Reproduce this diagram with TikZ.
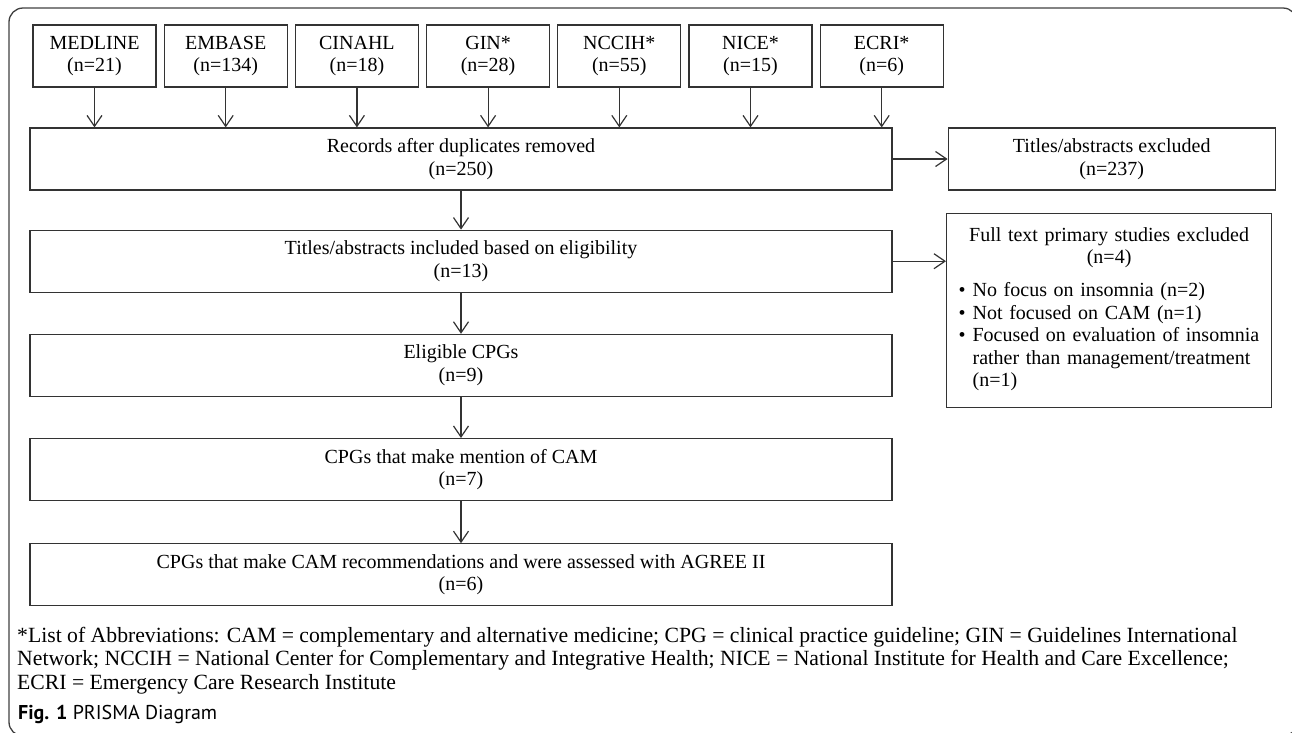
\documentclass[tikz,border=0pt]{standalone}
\usepackage{fontspec}
\setmainfont{Liberation Serif}
\newfontfamily\captionfont{PT Sans}
\usetikzlibrary{arrows.meta, positioning}
\newcommand{\boxfont}{\fontsize{20}{22.5}\selectfont}
\tikzstyle{block} = [rectangle, draw=black!80, line width=1.2pt, fill=white,
    align=center, minimum height=62pt, inner sep=0pt, font=\boxfont]
\tikzstyle{source} = [block, minimum width=123pt]
\tikzstyle{wide} = [block, minimum width=862pt]
\tikzstyle{line} = [draw=black!80, line width=1.2pt, -{Straight Barb[length=11pt,width=15pt]}]

\begin{document}
\begin{tikzpicture}[x=1pt, y=-1pt, node distance=7pt]
      \useasboundingbox (0,0) rectangle (1292,732);
      \clip (0,0) rectangle (1292,732);
      % Frame
      \draw [black!75, line width=1.3pt, rounded corners=14pt] (9,8) rectangle (1297,736);
      % Sources
      \node [source] (medline) at (94.5,56) {MEDLINE\\(n=21)};
      \node [source, right= of medline] (embase) {EMBASE\\(n=134)};
      \node [source, right= of embase] (cinahl) {CINAHL\\(n=18)};
      \node [source, right= of cinahl] (gin) {GIN*\\(n=28)};
      \node [source, right= of gin] (nccih) {NCCIH*\\(n=55)};
      \node [source, right= of nccih] (nice) {NICE*\\(n=15)};
      \node [source, right= of nice] (ecri) {ECRI*\\(n=6)};
      % Screening
      \node [wide] (records) at (461,159) {Records after duplicates removed\\(n=250)};
      \node [block, minimum width=327pt, right=55pt of records] (titles-excl) {Titles/abstracts excluded\\(n=237)};
      \node [wide, below=39pt of records] (included) {Titles/abstracts included based on eligibility\\(n=13)};
      \node [block, anchor=north west, minimum width=325pt, minimum height=194pt,
          text width=301pt, align=left, inner xsep=12pt] (fulltext-excl) at (946,213) {%
          {\centering Full text primary studies excluded\\(n=4)\par}\vspace{12pt}%
          \begin{tabular}{@{}l@{\hspace{7pt}}l@{}}
          \textbullet & No focus on insomnia (n=2)\\
          \textbullet & Not focused on CAM (n=1)\\
          \textbullet & Focused on evaluation of insomnia\\
           & rather than management/treatment\\
           & (n=1)
          \end{tabular}};
      \node [wide, below=41pt of included] (eligible) {Eligible CPGs\\(n=9)};
      \node [wide, below=41pt of eligible] (mention) {CPGs that make mention of CAM\\(n=7)};
      \node [wide, below=42pt of mention] (assessed) {CPGs that make CAM recommendations and were assessed with AGREE II\\(n=6)};
      % Notes
      \node [anchor=base west, align=left, inner sep=0pt, font=\fontsize{21.7}{23.3}\selectfont] (abbrev) at (17,689)
          {*List of Abbreviations: CAM = complementary and alternative medicine; CPG = clinical practice guideline; GIN = Guidelines International\\
          Network; NCCIH = National Center for Complementary and Integrative Health; NICE = National Institute for Health and Care Excellence;\\
          ECRI = Emergency Care Research Institute};
      \node [anchor=base west, inner sep=0pt, font=\captionfont\fontsize{20}{22}\selectfont] (caption) at (18,719)
          {\textbf{Fig. 1} PRISMA Diagram};
      % Draw edges
      \path [line] (medline.south) -- (medline.south |- records.north);
      \path [line] (embase.south) -- (embase.south |- records.north);
      \path [line] (cinahl.south) -- (cinahl.south |- records.north);
      \path [line] (gin.south) -- (gin.south |- records.north);
      \path [line] (nccih.south) -- (nccih.south |- records.north);
      \path [line] (nice.south) -- (nice.south |- records.north);
      \path [line] (ecri.south) -- (ecri.south |- records.north);
      \path [line] (records) -- (titles-excl);
      \path [line] (records) -- (included);
      \path [line] (included.east) -- (included.east -| fulltext-excl.west);
      \path [line] (included) -- (eligible);
      \path [line] (eligible) -- (mention);
      \path [line] (mention) -- (assessed);
  \end{tikzpicture}
\end{document}
